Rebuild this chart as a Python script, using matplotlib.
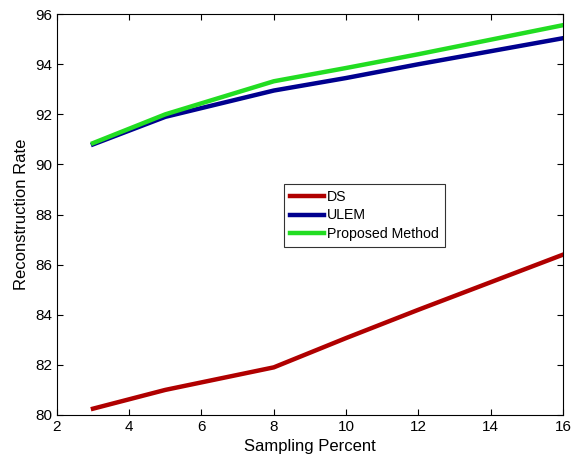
import matplotlib
matplotlib.use('Agg')
import matplotlib.pyplot as plt

# sampling percent on x
sampling = [3, 5, 8, 10, 12, 14, 16]
ds = [80.25, 81.0, 81.9, 83.07, 84.2, 85.3, 86.4]
ulem = [90.8, 91.9, 92.95, 93.45, 94.0, 94.52, 95.04]
proposed = [90.85, 92.0, 93.32, 93.85, 94.4, 94.98, 95.56]

plt.rcParams['font.family'] = ['Liberation Sans', 'DejaVu Sans']

fig = plt.figure(figsize=(5.74, 4.71), dpi=100)
ax = fig.add_axes([0.099, 0.119, 0.882, 0.851])

ax.plot(sampling, ds, color='#b00000', lw=3.2, label='DS')
ax.plot(sampling, ulem, color='#00008f', lw=3.2, label='ULEM')
ax.plot(sampling, proposed, color='#22dd22', lw=3.2, label='Proposed Method')

ax.set_xlim(2, 16)
ax.set_ylim(80, 96)
ax.set_xticks(range(2, 17, 2))
ax.set_yticks(range(80, 97, 2))
ax.tick_params(direction='in', top=True, right=True, labelsize=11, length=4)
ax.set_xlabel('Sampling Percent', fontsize=12)
ax.set_ylabel('Reconstruction Rate', fontsize=12)

leg = ax.legend(loc='lower left', bbox_to_anchor=(0.449, 0.418), fontsize=10.2,
                fancybox=False, edgecolor='black', handlelength=2.4,
                borderpad=0.42, labelspacing=0.35, handletextpad=0.2,
                borderaxespad=0)
leg.get_frame().set_linewidth(0.8)

fig.savefig('out.png', dpi=100)
